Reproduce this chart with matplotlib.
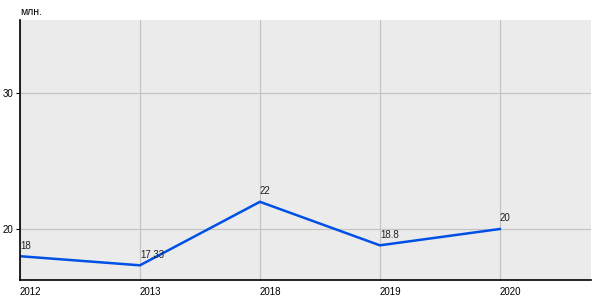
import matplotlib
matplotlib.use("Agg")
import matplotlib.pyplot as plt

years = ["2012", "2013", "2018", "2019", "2020"]
values = [18, 17.33, 22, 18.8, 20]
labels = ["18", "17.33", "22", "18.8", "20"]

plt.rcParams['font.family'] = ['Liberation Sans', 'DejaVu Sans']

fig = plt.figure(figsize=(6, 3), dpi=100)
ax = fig.add_axes([20 / 600, 20 / 300, 571 / 600, 260 / 300])
ax.set_facecolor("#ebebeb")

x = list(range(len(years)))
ax.plot(x, values, color="#0050e6", lw=1.8, solid_joinstyle="miter")
for xi, v, t in zip(x, values, labels):
    ax.annotate(t, (xi, v), xytext=(0, 4), textcoords="offset points",
                ha="left", va="bottom", fontsize=7, color="#222222")

ax.set_xlim(0, 4.76)
ax.set_ylim(16.25, 35.37)
ax.set_xticks(x)
ax.set_xticklabels(years, ha="left")
ax.set_yticks([20, 30])
ax.grid(True, color="#c4c4c4", lw=0.9)
ax.set_axisbelow(True)
ax.tick_params(axis="x", length=0, pad=5, labelsize=7)
ax.tick_params(axis="y", length=3, pad=2, labelsize=7)
for s in ("top", "right"):
    ax.spines[s].set_visible(False)
for s in ("left", "bottom"):
    ax.spines[s].set_linewidth(1.2)

fig.text(20 / 600, 1 - 12 / 300, "млн.", fontsize=7.5, ha="left", va="center")

fig.savefig("out.png", dpi=100)
